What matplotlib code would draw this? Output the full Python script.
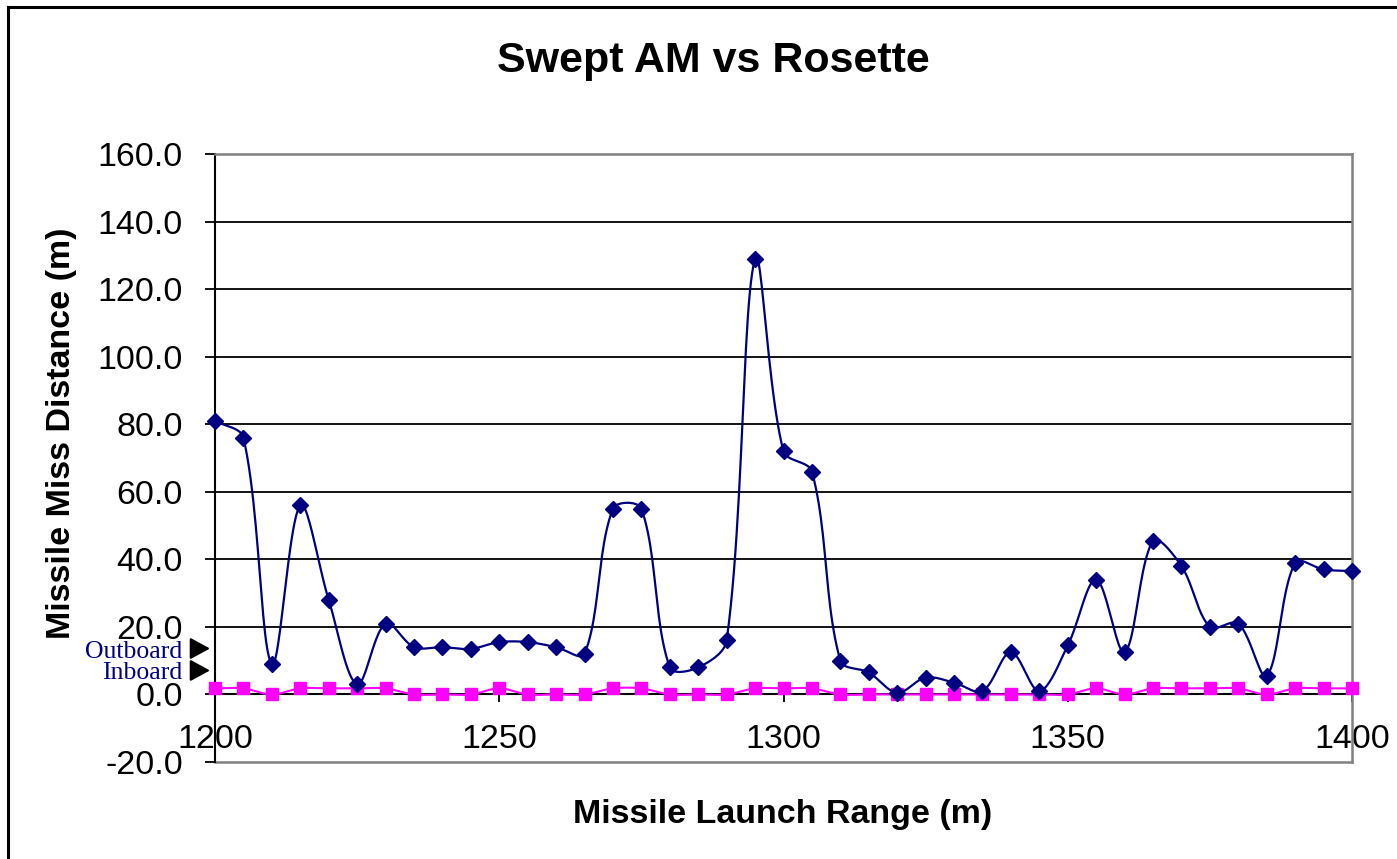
import numpy as np
import matplotlib.pyplot as plt
from matplotlib.lines import Line2D

plt.rcParams['font.family'] = ['Liberation Sans', 'DejaVu Sans']

# launch range (m)
launch_range = list(range(1200, 1401, 5))

# outboard miss distance (m)
outboard = [81, 76, 9, 56, 28, 3, 21, 14, 14, 13.5,
            15.5, 15.5, 14, 12, 55, 55, 8, 8, 16, 129,
            72, 66, 10, 6.5, 0.5, 5, 3.5, 1, 12.5, 1,
            14.5, 34, 12.5, 45.5, 38, 20, 21, 5.5, 39, 37,
            36.5]

# inboard miss distance (m)
inboard = [1.8, 1.8, 0, 1.8, 1.8, 1.8, 1.8, 0, 0, 0,
           1.8, 0, 0, 0, 1.8, 1.8, 0, 0, 0, 1.8,
           1.8, 1.8, 0, 0, 0, 0, 0, 0, 0, 0,
           0, 1.8, 0, 1.8, 1.8, 1.8, 1.8, 0, 1.8, 1.8,
           1.8]

yticks = [-20, 0, 20, 40, 60, 80, 100, 120, 140, 160]
xticks = [1200, 1250, 1300, 1350, 1400]

# pixels per data unit, used so the smoothing works in screen space
XS = (1352 - 215) / 200
YS = (762 - 154) / 180


def smooth(x, y, n=24):
    # bezier smoothing, tangent arms weighted by neighbouring segment lengths
    p = np.column_stack([np.asarray(x, float) * XS, np.asarray(y, float) * YS])
    pts = np.vstack([p[0], p, p[-1]])
    d = np.linalg.norm(np.diff(pts, axis=0), axis=1)
    out = []
    t = np.linspace(0, 1, n, endpoint=False)[:, None]
    for i in range(1, len(pts) - 2):
        a, b = pts[i], pts[i + 1]
        w1 = d[i] / ((d[i - 1] + d[i]) or 1)
        w2 = d[i] / ((d[i] + d[i + 1]) or 1)
        c1 = a + (pts[i + 1] - pts[i - 1]) * w1 / 3
        c2 = b - (pts[i + 2] - pts[i]) * w2 / 3
        out.append((1 - t) ** 3 * a + 3 * (1 - t) ** 2 * t * c1 + 3 * (1 - t) * t ** 2 * c2 + t ** 3 * b)
    out.append(p[-1][None, :])
    out = np.vstack(out)
    return out[:, 0] / XS, out[:, 1] / YS


fig = plt.figure(figsize=(13.97, 8.59), dpi=100)
ax = fig.add_axes([215 / 1397, 1 - 762 / 859, (1352 - 215) / 1397, (762 - 154) / 859])

navy = '#000080'
magenta = '#FF00FF'

sx, sy = smooth(launch_range, inboard)
ax.plot(sx, sy, color=magenta, lw=1.5, zorder=3, clip_on=False)
ax.plot(launch_range, inboard, ls='none', marker='s', ms=8.5, color=magenta, zorder=4, clip_on=False)

sx, sy = smooth(launch_range, outboard)
ax.plot(sx, sy, color=navy, lw=1.6, zorder=5, clip_on=False)
ax.plot(launch_range, outboard, ls='none', marker='D', ms=8.5, color=navy, zorder=6, clip_on=False)

ax.set_xlim(1200, 1400)
ax.set_ylim(-20, 160)

for v in yticks[2:-1]:
    ax.axhline(v, color='black', lw=1.3, zorder=1)

ax.spines['bottom'].set_position(('data', 0))
ax.spines['bottom'].set_color('black')
ax.spines['bottom'].set_linewidth(1.5)
ax.spines['left'].set_linewidth(1.5)
for side in ['top', 'right']:
    ax.spines[side].set_color('#808080')
    ax.spines[side].set_linewidth(1.8)
ax.axhline(-20, color='#808080', lw=1.8, zorder=1, clip_on=False)

ax.set_yticks(yticks)
ax.set_yticklabels([f'{v:.1f}' for v in yticks])
ax.set_xticks(xticks)
ax.set_xticklabels([str(v) for v in xticks])
ax.tick_params(axis='y', direction='out', length=7, width=1.3, pad=16, labelsize=24.5)
ax.tick_params(axis='x', direction='out', length=6, width=1.3, pad=15, labelsize=24.5)

fig.text(713 / 1397, 1 - 61 / 859, 'Swept AM vs Rosette', fontsize=31, fontweight='bold',
         ha='center', va='center')
fig.text(783 / 1397, 1 - 815 / 859, 'Missile Launch Range (m)', fontsize=24.5, fontweight='bold',
         ha='center', va='center')
fig.text(62 / 1397, 1 - 433 / 859, 'Missile Miss Distance (m)', fontsize=24.5, fontweight='bold',
         ha='center', va='center', rotation=90)

# outboard / inboard markers on the left
ax.text(-0.029, 9.5, 'Outboard\nInboard', transform=ax.get_yaxis_transform(),
        ha='right', va='center', multialignment='right', linespacing=0.98,
        fontsize=18.5, color=navy, family=['Liberation Serif', 'DejaVu Serif'])
for yv in [13.6, 7.1]:
    ax.annotate('', xy=(-0.002, yv), xytext=(-0.021, yv),
                xycoords=ax.get_yaxis_transform(), textcoords=ax.get_yaxis_transform(),
                arrowprops=dict(arrowstyle='-|>,head_length=0.55,head_width=0.3',
                                color='black', lw=1.6, mutation_scale=22),
                annotation_clip=False)

# chart frame
fig.add_artist(Line2D([8 / 1397, 8 / 1397], [0, 1 - 7 / 859], color='black', lw=2.2,
                      transform=fig.transFigure))
fig.add_artist(Line2D([8 / 1397, 1], [1 - 7 / 859, 1 - 7 / 859], color='black', lw=2.2,
                      transform=fig.transFigure))

fig.savefig('out.png', dpi=100)
